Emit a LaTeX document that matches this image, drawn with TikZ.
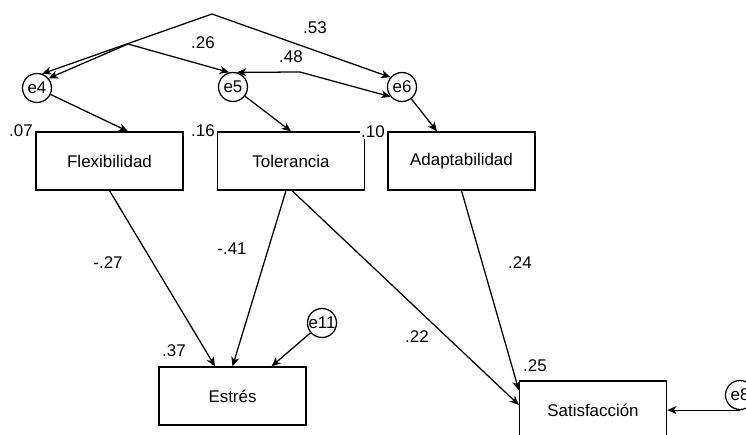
\documentclass[tikz,border=0pt]{standalone}
\usepackage{fontspec}
\setmainfont{Liberation Sans}
\usetikzlibrary{arrows.meta,calc}
% keep the circle size fixed whatever the width of its label
\newcommand\errtext[1]{\makebox[0pt]{#1}}
\begin{document}
\begin{tikzpicture}[x=0.75pt,y=-0.75pt,
  font=\fontsize{12.7}{15}\selectfont,
  line width=0.95pt,
  >={Stealth[length=7pt,width=6pt,inset=2pt]},
  var/.style={draw,rectangle,minimum width=110.25pt,minimum height=43.5pt,inner sep=0pt},
  err/.style={draw,circle,minimum size=21.75pt,inner sep=0pt},
  coef/.style={fill=white,inner sep=1pt}]
\useasboundingbox (0,0) rectangle (746,435);
\clip (0,0) rectangle (746,435);

% observed variables
\node[var] (flex)   at (109.5,161) {Flexibilidad};
\node[var] (tol)    at (291,161)   {Tolerancia};
\node[var] (adapt)  at (461.5,161) {Adaptabilidad};
\node[var] (estres) at (232.5,396) {Estrés};
\node[var] (sat)    at (593,410)   {Satisfacción};

% error terms
\node[err] (e4)  at (37,88)   {\errtext{e4}};
\node[err] (e5)  at (233,87)  {\errtext{e5}};
\node[err] (e6)  at (402,87)  {\errtext{e6}};
\node[err] (e11) at (322,323) {\errtext{e11}};
\node[err] (e8)  at (740,395) {\errtext{e8}};

% bends of the covariance paths
\coordinate (peak) at (212,14);
\coordinate (k26)  at (128,44);
\coordinate (k48)  at (300,72);

% covariances among the errors
\draw[<->] (e4.70) -- (peak) -- (e6.140);
\draw[<->] (e4.40) -- (k26) -- (e5.105);
\draw[<->] (e5.75) -- (k48) -- (e6.220);

% error terms to variables
\draw[->] (e4) -- ($(flex.north)+(18.5,0)$);
\draw[->] (e5) -- (tol.north);
\draw[->] (e6) -- ($(adapt.north)+(-24.5,0)$);
\draw[->] (e11) -- ($(estres.north)+(39,0)$);
\draw[->] (e8.south) -- (sat.east |- e8.south);

% structural paths
\draw[->] (flex.south) -- ($(estres.north)+(-17.5,0)$);
\draw[->] ($(tol.south)+(-5,0)$) -- (estres.north);
\draw[->] ($(tol.south)+(1,0)$) -- ($(sat.west)+(0,-5)$);
\draw[->] (adapt.south) -- ($(sat.north west)+(0,10)$);

% coefficients
\node[coef] (c53) at (315,28)  {.53};
\node[coef] (c26) at (203,43)  {.26};
\node[coef] (c48) at (291,57)  {.48};
\node[coef] (c07) at (21,131)  {.07};
\node[coef] (c16) at (203,131) {.16};
\node[coef] (c10) at (373,132) {.10};
\node[coef] (c27) at (108,263) {-.27};
\node[coef] (c41) at (232,249) {-.41};
\node[coef] (c24) at (520,263) {.24};
\node[coef] (c22) at (417,337) {.22};
\node[coef] (c25) at (535,366) {.25};
\node[coef] (c37) at (174,351) {.37};
\end{tikzpicture}
\end{document}
